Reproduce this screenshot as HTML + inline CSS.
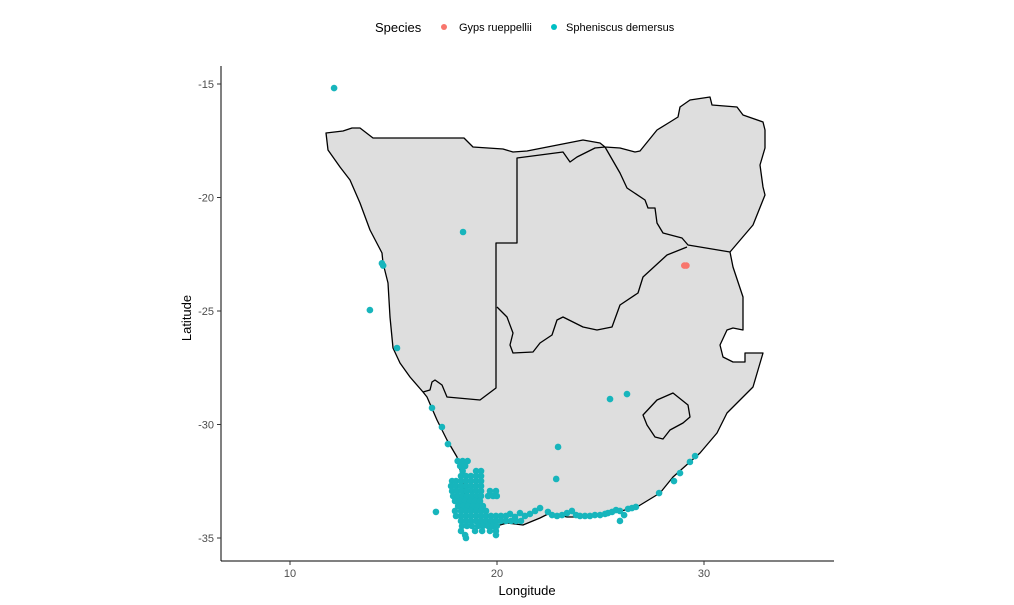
<!DOCTYPE html>
<html><head><meta charset="utf-8"><style>
body{margin:0;background:#fff;}
svg{display:block;font-family:"Liberation Sans",sans-serif;}
</style></head><body>
<svg id="chart" width="1014" height="605">
<g>
<text x="375" y="32" font-size="13" fill="#000">Species</text>
<circle cx="444" cy="27" r="3" fill="#F8766D"/>
<text x="459" y="31" font-size="11" fill="#000">Gyps rueppellii</text>
<circle cx="554" cy="27" r="3" fill="#00BFC4"/>
<text x="566" y="31" font-size="11" fill="#000">Spheniscus demersus</text>
</g>
<g fill="#dedede" stroke="#000" stroke-width="1.3" stroke-linejoin="round">
<path d="M326,133 L343,131 L352,128 L360,128 L373,138 L464,138 L473,147 L503,149 L513,152 L527,151 L583,140 L600,143 L605,147 L620,148 L635,152 L640,151 L657,130 L670,122 L678,117 L680,107 L690,100 L710,97 L712,105 L737,107 L743,115 L763,122 L765,130 L765,148 L760,165 L763,187 L765,195 L753,225 L730,252 L733,267 L743,297 L743,330 L733,328 L727,330 L720,345 L723,357 L733,362 L745,362 L745,353 L763,353 L758,370 L753,387 L740,400 L727,413 L717,433 L700,453 L673,477 L660,493 L637,507 L613,513 L587,517 L567,517 L550,513 L540,518 L523,525 L507,523 L493,527 L480,523 L470,513 L465,493 L460,470 L457,457 L447,440 L437,420 L427,397 L423,392 L410,377 L400,363 L393,348 L390,317 L388,283 L383,263 L382,253 L370,230 L360,203 L350,180 L340,167 L328,150 Z"/>
<path d="M643,415 L657,400 L673,393 L688,405 L690,417 L683,423 L670,430 L663,439 L655,437 L647,425 Z"/>
<g fill="none">
<path d="M423,392 L430,390 L432,382 L435,380 L442,385 L447,397 L480,400 L496,388 L496,243 L517,243 L517,158 L563,152 L570,162 L577,157 L587,152 L595,148 L605,147"/>
<path d="M605,147 L620,173 L627,188 L645,200 L648,208 L655,208 L657,223 L663,233 L682,238 L688,245 L700,247 L730,252"/>
<path d="M687,247 L667,255 L643,277 L638,293 L620,305 L612,327 L597,330 L583,327 L563,317 L557,320 L552,335 L540,343 L533,352 L513,353 L510,345 L513,333 L507,317 L497,307"/>
</g>
</g>
<g id="axes"></g>
<g id="points"></g>
<text x="185" y="312" font-size="13" text-anchor="middle" transform="rotate(-90 191 312)">Latitude</text>
<text x="527" y="595" font-size="13" text-anchor="middle">Longitude</text>
</svg>
<script>
const xTicks=[10,20,30];
const yTicks=[-15,-20,-25,-30,-35];
const gypsLon=[29.05,29.15];
const gypsLat=[-23.0,-23.0];
const sphLonScattered=[12.13,18.36,14.44,14.5,13.86,15.17,16.86,17.34,17.63,25.46,26.28,22.95,22.86,27.83,28.55,28.84,29.32,29.57,17.05,18.5];
const sphLatScattered=[-15.18,-21.52,-22.9,-23.0,-24.96,-26.63,-29.27,-30.11,-30.86,-28.88,-28.66,-30.99,-32.4,-33.02,-32.49,-32.14,-31.65,-31.39,-33.85,-35.0];
const clusterLats=[-31.61,-31.83,-32.05,-32.27,-32.49,-32.71,-32.93,-33.15,-33.37,-33.59,-33.81,-34.03,-34.25,-34.47,-34.69,-34.87];
const clusterLons=[
[18.1,18.34,18.58],
[18.22,18.46],
[18.34,18.99,19.23],
[18.26,18.5,18.74,18.99,19.23],
[17.83,18.02,18.26,18.5,18.74,18.99,19.23],
[17.78,18.02,18.26,18.5,18.74,18.99,19.23],
[17.83,18.07,18.31,18.55,18.79,18.99,19.23,19.66,19.95],
[17.88,18.12,18.36,18.55,18.79,19.04,19.23,19.57,19.81,19.99],
[17.97,18.22,18.46,18.7,18.94,19.18],
[18.12,18.36,18.6,18.84,19.08,19.32],
[17.97,18.26,18.5,18.74,18.99,19.23,19.47],
[18.02,18.26,18.5,18.74,18.99,19.23,19.47,19.71,19.95,20.19,20.43],
[18.26,18.5,18.74,18.99,19.23,19.47,19.71,19.95,20.19,20.43,20.68,20.92,21.16],
[18.31,18.55,18.79,19.08,19.32,19.57,19.81,19.99],
[18.26,18.94,19.28,19.66,19.95],
[18.46,19.95]];
const coastLon=[20.63,20.87,21.11,21.35,21.59,21.84,22.08,22.46,22.66,22.9,23.14,23.38,23.62,23.82,24.01,24.25,24.49,24.73,24.98,25.22,25.36,25.56,25.75,25.94,26.14,25.94,26.33,26.52,26.71];
const coastLat=[-33.94,-34.07,-33.9,-34.03,-33.94,-33.81,-33.68,-33.85,-33.99,-34.03,-33.99,-33.9,-33.81,-33.99,-34.03,-34.03,-34.03,-33.99,-33.99,-33.94,-33.9,-33.85,-33.77,-33.81,-33.99,-34.25,-33.72,-33.68,-33.63];
const x=lon=>83+lon*20.7;
const y=lat=>84+(-15-lat)*22.7;
const NS='http://www.w3.org/2000/svg';
const ax=document.getElementById('axes');
const pts=document.getElementById('points');
function mk(tag,attrs,parent){const e=document.createElementNS(NS,tag);for(const k in attrs)e.setAttribute(k,attrs[k]);parent.appendChild(e);return e;}
let l=mk('line',{x1:221,y1:66,x2:221,y2:561,stroke:'#000','stroke-width':1},ax);


l=mk('line',{x1:221,y1:561,x2:834,y2:561,stroke:'#000','stroke-width':1},ax);


xTicks.forEach(v=>{
 const t=mk('line',{x1:x(v),y1:561,x2:x(v),y2:565,stroke:'#333'},ax);
 
 
 const tx=mk('text',{x:x(v),y:577,'font-size':11,fill:'#4d4d4d','text-anchor':'middle'},ax);
 tx.textContent=v;
 
 
});
yTicks.forEach(v=>{
 const t=mk('line',{x1:217,y1:y(v),x2:221,y2:y(v),stroke:'#333'},ax);
 
 
 const tx=mk('text',{x:214,y:y(v)+4,'font-size':11,fill:'#4d4d4d','text-anchor':'end'},ax);
 tx.textContent=v;
 
 
});
function dot(lon,lat,col,name){
 const c=mk('circle',{cx:x(lon),cy:y(lat),r:3.3,fill:col},pts);
 
 
}
sphLonScattered.forEach((v,i)=>dot(v,sphLatScattered[i],'#17B5BC','spheniscus-point'));
clusterLats.forEach((lat,i)=>clusterLons[i].forEach(lon=>dot(lon,lat,'#17B5BC','spheniscus-point')));
coastLon.forEach((v,i)=>dot(v,coastLat[i],'#17B5BC','spheniscus-point'));
gypsLon.forEach((v,i)=>dot(v,gypsLat[i],'#F8766D','gyps-point'));
</script>
</body></html>
